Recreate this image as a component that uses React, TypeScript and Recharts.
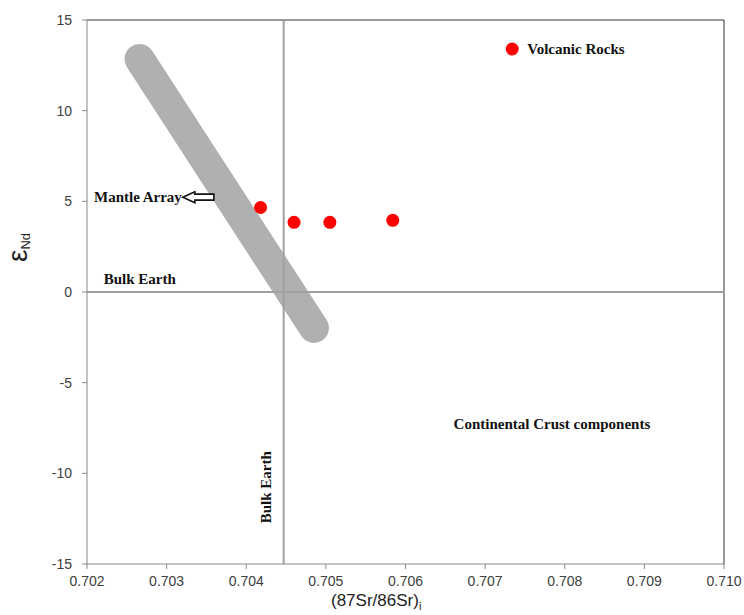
import React from 'react';
import { ComposedChart, Scatter, XAxis, YAxis, ReferenceLine, ReferenceDot } from 'recharts';

// Axis ticks
const srTicks = [0.702, 0.703, 0.704, 0.705, 0.706, 0.707, 0.708, 0.709, 0.71];
const ndTicks = [-15, -10, -5, 0, 5, 10, 15];

// Volcanic rock samples: initial 87Sr/86Sr vs epsilon Nd
const volcanicSr = [0.70418, 0.7046, 0.70505, 0.70584];
const volcanicNd = [4.66, 3.84, 3.84, 3.95];

// Mantle array band end points
const mantleSr = [0.70266, 0.70485];
const mantleNd = [12.85, -1.98];

// Bulk Earth reference values
const bulkEarthSr = 0.70447;
const bulkEarthNd = 0;

const volcanicData = volcanicSr.map((x, i) => ({ x, y: volcanicNd[i] }));
const mantleSegment = mantleSr.map((x, i) => ({ x, y: mantleNd[i] }));

const SERIF = '"Liberation Serif", "Times New Roman", serif';
const SANS = '"Liberation Sans", Arial, sans-serif';
const RED = '#ff0000';

const noteStyle = { fontFamily: SERIF, fontWeight: 700, fontSize: 15, fill: '#111' };

const TextNote = (props: any) => {
  const { cx, cy, text, anchor = 'start', rotate = false } = props;
  return (
    <text
      x={cx}
      y={cy}
      textAnchor={anchor}
      transform={rotate ? `rotate(-90 ${cx} ${cy})` : undefined}
      style={noteStyle}
    >
      {text}
    </text>
  );
};

// Label with an outlined arrow pointing at the band
const ArrowNote = (props: any) => {
  const { cx, cy } = props;
  const d = `M ${cx} ${cy} L ${cx + 12} ${cy - 5.5} L ${cx + 12} ${cy - 3} L ${cx + 31} ${cy - 3} L ${cx + 31} ${cy + 3} L ${cx + 12} ${cy + 3} L ${cx + 12} ${cy + 5.5} Z`;
  return (
    <g>
      <text x={cx - 1} y={cy + 5} textAnchor="end" style={noteStyle}>Mantle Array</text>
      <path d={d} fill="#fff" stroke="#111" strokeWidth={1.6} strokeLinejoin="miter" />
    </g>
  );
};

const LegendNote = (props: any) => {
  const { cx, cy } = props;
  return (
    <g>
      <circle cx={cx} cy={cy} r={6.5} fill={RED} />
      <text x={cx + 15} y={cy + 5} style={noteStyle}>Volcanic Rocks</text>
    </g>
  );
};

const YLabel = (props: any) => {
  const vb = props.viewBox || { x: 27, y: 20, height: 543 };
  const x = vb.x;
  const y = vb.y + 242;
  return (
    <text x={x} y={y} transform={`rotate(-90 ${x} ${y})`} fill="#222" fontFamily={SANS}>
      <tspan fontSize={28}>ε</tspan>
      <tspan fontSize={13} dy={3}>Nd</tspan>
    </text>
  );
};

const XLabel = (props: any) => {
  const vb = props.viewBox || { x: 87, y: 563 };
  const x = vb.x + 244;
  const y = vb.y + 42;
  return (
    <text x={x} y={y} fill="#222" fontFamily={SANS}>
      <tspan fontSize={17}>(87Sr/86Sr)</tspan>
      <tspan fontSize={11} dy={4}>i</tspan>
    </text>
  );
};

const dotShape = (p: any) => <circle cx={p.cx} cy={p.cy} r={6.5} fill={RED} />;

export default function App() {
  return (
    <div style={{ position: 'absolute', left: 0, top: 0, background: '#fff' }}>
      <ComposedChart
        width={744}
        height={615}
        margin={{ top: 20, right: 20, bottom: 21, left: 27 }}
      >
        <XAxis
          type="number"
          dataKey="x"
          domain={[0.702, 0.71]}
          ticks={srTicks}
          tickFormatter={(v: number) => v.toFixed(3)}
          allowDataOverflow
          stroke="#888"
          tickSize={5}
          tickMargin={7}
          tick={{ fill: '#404040', fontSize: 14, fontFamily: SANS }}
          label={<XLabel />}
        />
        <YAxis
          type="number"
          dataKey="y"
          domain={[-15, 15]}
          ticks={ndTicks}
          allowDataOverflow
          width={60}
          stroke="#888"
          tickSize={5}
          tickMargin={10}
          tick={{ fill: '#404040', fontSize: 14, fontFamily: SANS }}
          label={<YLabel />}
        />
        <ReferenceLine y={15} stroke="#333" strokeWidth={1} ifOverflow="visible" />
        <ReferenceLine x={0.71} stroke="#333" strokeWidth={1} ifOverflow="visible" />
        <ReferenceLine
          segment={mantleSegment}
          stroke="#b0b0b0"
          strokeWidth={30}
          strokeLinecap="round"
          ifOverflow="visible"
        />
        <ReferenceLine x={bulkEarthSr} stroke="#a0a0a0" strokeWidth={2} />
        <ReferenceLine y={bulkEarthNd} stroke="#a0a0a0" strokeWidth={2} />
        <Scatter data={volcanicData} fill={RED} shape={dotShape} isAnimationActive={false} />
        <ReferenceDot x={0.703204} y={5.23} ifOverflow="visible" shape={(p: any) => <ArrowNote {...p} />} />
        <ReferenceDot x={0.70221} y={0.43} ifOverflow="visible" shape={(p: any) => <TextNote {...p} text="Bulk Earth" />} />
        <ReferenceDot x={0.704312} y={-10.77} ifOverflow="visible" shape={(p: any) => <TextNote {...p} text="Bulk Earth" anchor="middle" rotate />} />
        <ReferenceDot x={0.707839} y={-7.57} ifOverflow="visible" shape={(p: any) => <TextNote {...p} text="Continental Crust components" anchor="middle" />} />
        <ReferenceDot x={0.70734} y={13.4} ifOverflow="visible" shape={(p: any) => <LegendNote {...p} />} />
      </ComposedChart>
    </div>
  );
}
